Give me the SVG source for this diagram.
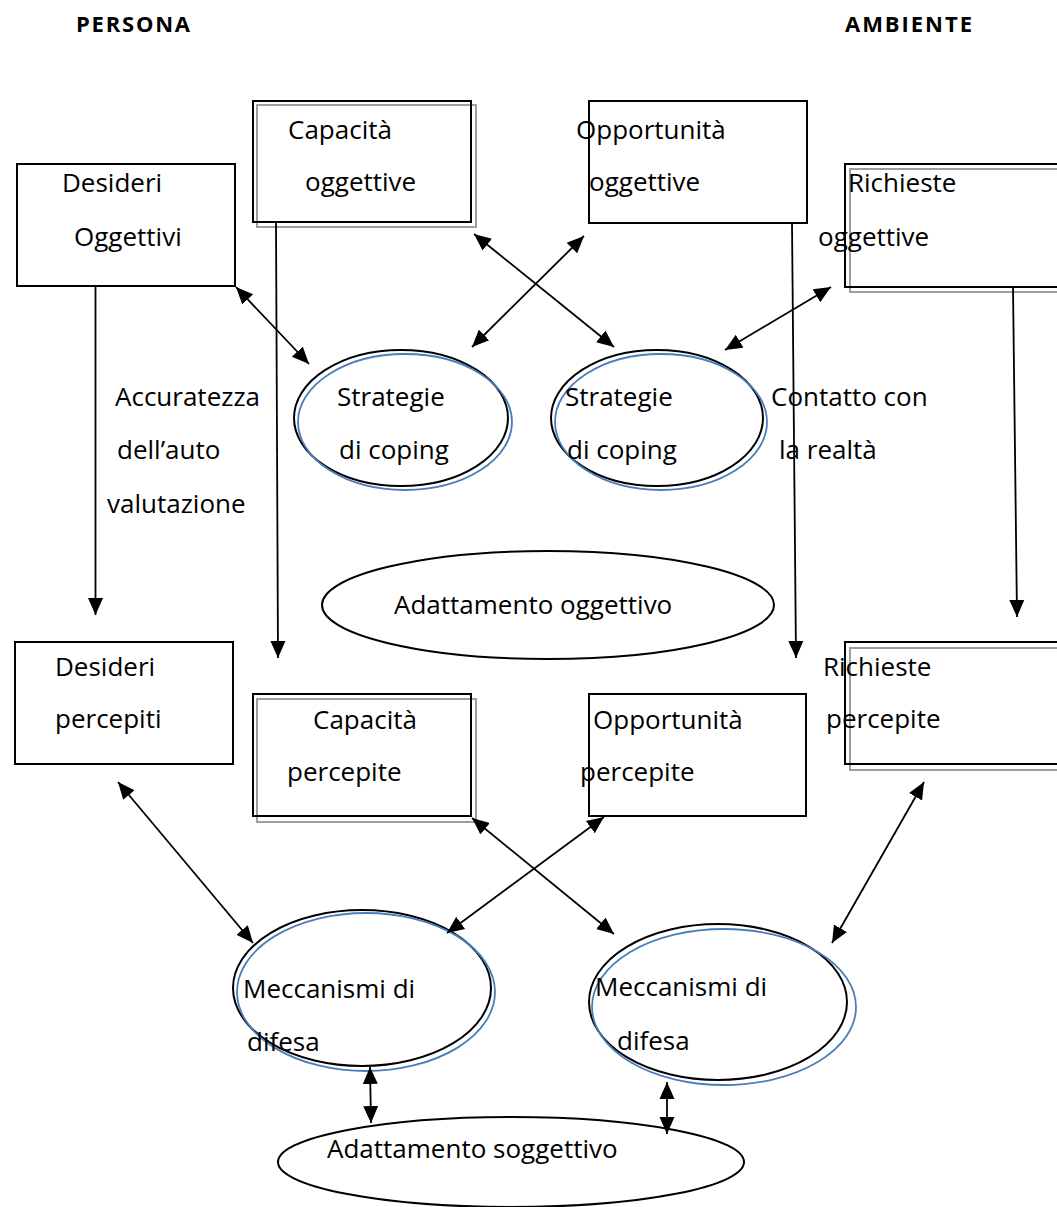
<svg xmlns="http://www.w3.org/2000/svg" width="1057" height="1207" viewBox="0 0 1057 1207">
<style>
text{font-family:"Open Sans","Liberation Sans",sans-serif;font-size:26px;fill:#000}
.title{font-weight:bold;font-size:22px}
.box{fill:none;stroke:#000;stroke-width:2}
.shadow{fill:none;stroke:#9e9e9e;stroke-width:2}
.ell{fill:none;stroke:#000;stroke-width:2}
.blue{fill:none;stroke:#4a7ebb;stroke-width:1.8}
.conn line{stroke:#000;stroke-width:1.8}
.one{marker-end:url(#ah)}
.two{marker-start:url(#ah);marker-end:url(#ah)}
</style>
<defs>
<marker id="ah" markerUnits="userSpaceOnUse" markerWidth="17" markerHeight="17" viewBox="0 0 17 17" refX="17" refY="8.5" orient="auto-start-reverse">
<path d="M0,1 L17,8.5 L0,16 z" fill="#000"/>
</marker>
</defs>
<rect width="1057" height="1207" fill="#fff"/>
<text class="title" x="76" y="32" textLength="114" lengthAdjust="spacing">PERSONA</text>
<text class="title" x="845" y="32" textLength="127" lengthAdjust="spacing">AMBIENTE</text>

<g id="desideri-oggettivi">
<rect class="box" x="17" y="164" width="218" height="122"/>
<text x="62" y="192">Desideri</text>
<text x="74" y="246">Oggettivi</text>
</g>
<g id="capacita-oggettive">
<rect class="shadow" x="257" y="105" width="219" height="122"/>
<rect class="box" x="253" y="101" width="218" height="121"/>
<text x="288" y="139">Capacità</text>
<text x="305" y="191">oggettive</text>
</g>
<g id="opportunita-oggettive">
<rect class="box" x="589" y="101" width="218" height="122"/>
<text x="576" y="139">Opportunità</text>
<text x="589" y="191">oggettive</text>
</g>
<g id="richieste-oggettive">
<rect class="shadow" x="850" y="169" width="230" height="123"/>
<rect class="box" x="845" y="164" width="230" height="123"/>
<text x="848" y="192">Richieste</text>
<text x="818" y="246">oggettive</text>
</g>
<g id="strategie-1">
<ellipse class="ell" cx="401" cy="418" rx="107" ry="68"/>
<ellipse class="blue" cx="405" cy="422" rx="107" ry="68"/>
<text x="337" y="406">Strategie</text>
<text x="339" y="459">di coping</text>
</g>
<g id="strategie-2">
<ellipse class="ell" cx="657" cy="418" rx="106" ry="68"/>
<ellipse class="blue" cx="661" cy="422" rx="106" ry="68"/>
<text x="565" y="406">Strategie</text>
<text x="567" y="459">di coping</text>
</g>
<g id="accuratezza">
<text x="115" y="406">Accuratezza</text>
<text x="117" y="459">dell’auto</text>
<text x="107" y="513">valutazione</text>
</g>
<g id="contatto">
<text x="771" y="406">Contatto con</text>
<text x="779" y="459">la realtà</text>
</g>
<g id="adattamento-oggettivo">
<ellipse class="ell" cx="548" cy="605" rx="226" ry="54"/>
<text x="394" y="614">Adattamento oggettivo</text>
</g>
<g id="desideri-percepiti">
<rect class="box" x="15" y="642" width="218" height="122"/>
<text x="55" y="676">Desideri</text>
<text x="55" y="728">percepiti</text>
</g>
<g id="capacita-percepite">
<rect class="shadow" x="257" y="699" width="219" height="123"/>
<rect class="box" x="253" y="694" width="218" height="122"/>
<text x="313" y="729">Capacità</text>
<text x="287" y="781">percepite</text>
</g>
<g id="opportunita-percepite">
<rect class="box" x="589" y="694" width="217" height="122"/>
<text x="593" y="729">Opportunità</text>
<text x="580" y="781">percepite</text>
</g>
<g id="richieste-percepite">
<rect class="shadow" x="850" y="648" width="230" height="122"/>
<rect class="box" x="845" y="642" width="230" height="122"/>
<text x="823" y="676">Richieste</text>
<text x="826" y="728">percepite</text>
</g>
<g id="meccanismi-1">
<ellipse class="ell" cx="362" cy="988" rx="129" ry="78"/>
<ellipse class="blue" cx="366" cy="992" rx="129" ry="79"/>
<text x="243" y="998">Meccanismi di</text>
<text x="247" y="1051">difesa</text>
</g>
<g id="meccanismi-2">
<ellipse class="ell" cx="718" cy="1002" rx="129" ry="78"/>
<ellipse class="blue" cx="724" cy="1007" rx="132" ry="78"/>
<text x="595" y="996">Meccanismi di</text>
<text x="617" y="1050">difesa</text>
</g>
<g id="adattamento-soggettivo">
<ellipse class="ell" cx="511" cy="1162" rx="233" ry="45"/>
<text x="327" y="1158">Adattamento soggettivo</text>
</g>

<g id="connectors" class="conn">
<line class="one" x1="95.5" y1="286" x2="95.5" y2="615"/>
<line class="one" x1="276" y1="222" x2="278" y2="658"/>
<line class="one" x1="792" y1="223" x2="796" y2="658"/>
<line class="one" x1="1013" y1="287" x2="1017" y2="617"/>
<line class="two" x1="236" y1="287" x2="309" y2="364"/>
<line class="two" x1="474" y1="234" x2="614" y2="347"/>
<line class="two" x1="584" y1="236" x2="472" y2="347"/>
<line class="two" x1="831" y1="287" x2="725" y2="350"/>
<line class="two" x1="118" y1="782" x2="253" y2="943"/>
<line class="two" x1="472" y1="818" x2="614" y2="934"/>
<line class="two" x1="604" y1="817" x2="447" y2="933"/>
<line class="two" x1="924" y1="782" x2="832" y2="943"/>
<line class="two" x1="370" y1="1067" x2="371" y2="1123"/>
<line class="two" x1="667" y1="1082" x2="667" y2="1134"/>
</g>
</svg>
